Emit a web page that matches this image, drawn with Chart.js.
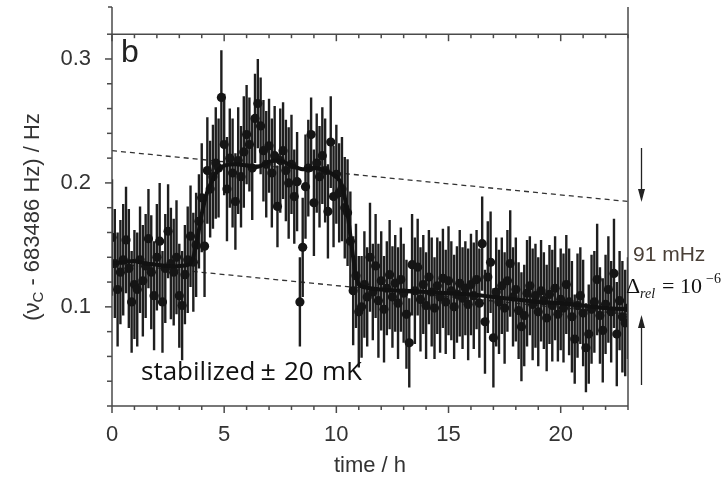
<!DOCTYPE html>
<html>
<head>
<meta charset="utf-8">
<script src="https://cdn.jsdelivr.net/npm/chart.js@4.4.1/dist/chart.umd.min.js"></script>
<style>
  body { margin: 0; background: #fff; }
  canvas { display: block; }
</style>
</head>
<body>
<canvas id="chart" width="725" height="479"></canvas>
<script>
// measurement times (h), one row per hour
const times = [
  0, 0.125, 0.25, 0.375, 0.5, 0.625, 0.75, 0.875,
  1, 1.125, 1.25, 1.375, 1.5, 1.625, 1.75, 1.875,
  2, 2.125, 2.25, 2.375, 2.5, 2.625, 2.75, 2.875,
  3, 3.125, 3.25, 3.375, 3.5, 3.625, 3.75, 3.875,
  4, 4.125, 4.25, 4.375, 4.5, 4.625, 4.75, 4.875,
  5, 5.125, 5.25, 5.375, 5.5, 5.625, 5.75, 5.875,
  6, 6.125, 6.25, 6.375, 6.5, 6.625, 6.75, 6.875,
  7, 7.125, 7.25, 7.375, 7.5, 7.625, 7.75, 7.875,
  8, 8.125, 8.25, 8.375, 8.5, 8.625, 8.75, 8.875,
  9, 9.125, 9.25, 9.375, 9.5, 9.625, 9.75, 9.875,
  10, 10.125, 10.25, 10.375, 10.5, 10.625, 10.75, 10.875,
  11, 11.125, 11.25, 11.375, 11.5, 11.625, 11.75, 11.875,
  12, 12.125, 12.25, 12.375, 12.5, 12.625, 12.75, 12.875,
  13, 13.125, 13.25, 13.375, 13.5, 13.625, 13.75, 13.875,
  14, 14.125, 14.25, 14.375, 14.5, 14.625, 14.75, 14.875,
  15, 15.125, 15.25, 15.375, 15.5, 15.625, 15.75, 15.875,
  16, 16.125, 16.25, 16.375, 16.5, 16.625, 16.75, 16.875,
  17, 17.125, 17.25, 17.375, 17.5, 17.625, 17.75, 17.875,
  18, 18.125, 18.25, 18.375, 18.5, 18.625, 18.75, 18.875,
  19, 19.125, 19.25, 19.375, 19.5, 19.625, 19.75, 19.875,
  20, 20.125, 20.25, 20.375, 20.5, 20.625, 20.75, 20.875,
  21, 21.125, 21.25, 21.375, 21.5, 21.625, 21.75, 21.875,
  22, 22.125, 22.25, 22.375, 22.5, 22.625, 22.75, 22.875,
  23
];

// nu_c - 683486 Hz, in Hz
const values = [
  0.156, 0.135, 0.114, 0.128, 0.138, 0.154, 0.131, 0.104,
  0.118, 0.114, 0.138, 0.121, 0.133, 0.155, 0.128, 0.109,
  0.140, 0.153, 0.104, 0.131, 0.161, 0.135, 0.128, 0.140,
  0.109, 0.101, 0.126, 0.138, 0.157, 0.136, 0.150, 0.169,
  0.188, 0.149, 0.210, 0.195, 0.205, 0.216, 0.212, 0.269,
  0.231, 0.195, 0.220, 0.208, 0.185, 0.218, 0.205, 0.225,
  0.239, 0.231, 0.212, 0.252, 0.264, 0.246, 0.226, 0.215,
  0.230, 0.208, 0.222, 0.181, 0.218, 0.226, 0.210, 0.200,
  0.215, 0.189, 0.201, 0.104, 0.148, 0.197, 0.212, 0.239,
  0.184, 0.216, 0.205, 0.222, 0.210, 0.177, 0.233, 0.189,
  0.207, 0.192, 0.195, 0.180, 0.176, 0.153, 0.113, 0.125,
  0.096, 0.100, 0.118, 0.108, 0.140, 0.112, 0.133, 0.105,
  0.121, 0.098, 0.115, 0.126, 0.108, 0.119, 0.103, 0.122,
  0.111, 0.094, 0.071, 0.134, 0.113, 0.132, 0.106, 0.118,
  0.101, 0.124, 0.112, 0.099, 0.117, 0.108, 0.123, 0.104,
  0.121, 0.113, 0.100, 0.110, 0.119, 0.107, 0.115, 0.102,
  0.118, 0.109, 0.122, 0.103, 0.151, 0.088, 0.124, 0.136,
  0.075, 0.112, 0.104, 0.117, 0.099, 0.121, 0.135, 0.108,
  0.114, 0.097, 0.084, 0.093, 0.111, 0.117, 0.102, 0.109,
  0.096, 0.113, 0.105, 0.091, 0.110, 0.101, 0.115, 0.094,
  0.106, 0.099, 0.118, 0.104, 0.092, 0.074, 0.101, 0.109,
  0.095, 0.067, 0.078, 0.098, 0.104, 0.122, 0.093, 0.081,
  0.102, 0.114, 0.096, 0.127, 0.078, 0.105, 0.092, 0.087,
  0.099
];

// one-sigma uncertainty, in Hz
const errors = [
  0.047, 0.044, 0.046, 0.042, 0.045, 0.043, 0.048, 0.041,
  0.044, 0.046, 0.043, 0.045, 0.042, 0.040, 0.046, 0.044,
  0.043, 0.047, 0.041, 0.044, 0.038, 0.045, 0.043, 0.046,
  0.042, 0.044, 0.040, 0.043, 0.041, 0.040, 0.042, 0.038,
  0.044, 0.041, 0.043, 0.039, 0.042, 0.045, 0.040, 0.038,
  0.041, 0.042, 0.040, 0.044, 0.039, 0.043, 0.041, 0.045,
  0.040, 0.038, 0.042, 0.036, 0.036, 0.039, 0.041, 0.043,
  0.038, 0.044, 0.040, 0.033, 0.042, 0.039, 0.041, 0.045,
  0.040, 0.038, 0.040, 0.036, 0.040, 0.042, 0.039, 0.030,
  0.043, 0.040, 0.041, 0.039, 0.042, 0.038, 0.037, 0.041,
  0.040, 0.040, 0.042, 0.041, 0.043, 0.040, 0.044, 0.042,
  0.045, 0.041, 0.043, 0.040, 0.044, 0.039, 0.042, 0.046,
  0.040, 0.043, 0.038, 0.044, 0.041, 0.039, 0.045, 0.042,
  0.040, 0.044, 0.036, 0.041, 0.043, 0.039, 0.042, 0.040,
  0.043, 0.038, 0.044, 0.041, 0.039, 0.045, 0.040, 0.042,
  0.044, 0.040, 0.042, 0.039, 0.043, 0.041, 0.038, 0.045,
  0.041, 0.043, 0.040, 0.044, 0.038, 0.042, 0.045, 0.041,
  0.040, 0.044, 0.042, 0.039, 0.045, 0.041, 0.043, 0.040,
  0.042, 0.039, 0.044, 0.041, 0.043, 0.040, 0.045, 0.042,
  0.044, 0.041, 0.039, 0.043, 0.040, 0.045, 0.042, 0.038,
  0.041, 0.044, 0.040, 0.043, 0.045, 0.036, 0.042, 0.039,
  0.043, 0.036, 0.040, 0.044, 0.041, 0.045, 0.039, 0.042,
  0.040, 0.043, 0.041, 0.044, 0.042, 0.040, 0.045, 0.043,
  0.041
];

// smoothed curve through the data
const trendTimes = [0, 0.5, 1, 1.5, 2, 2.5, 3, 3.5, 3.75, 4, 4.25, 4.5, 4.75, 5, 5.5, 6, 6.5, 7, 7.5, 8, 8.5, 9, 9.5, 10, 10.25, 10.5, 10.75, 11, 11.5, 12, 13, 14, 15, 16, 17, 18, 19, 20, 21, 22, 23];
const trendValues = [0.135, 0.136, 0.137, 0.135, 0.134, 0.133, 0.133, 0.135, 0.150, 0.175, 0.193, 0.203, 0.211, 0.214, 0.215, 0.214, 0.213, 0.217, 0.218, 0.214, 0.211, 0.212, 0.210, 0.205, 0.198, 0.175, 0.140, 0.118, 0.115, 0.114, 0.113, 0.112, 0.111, 0.110, 0.108, 0.106, 0.104, 0.103, 0.101, 0.099, 0.098];

// dashed reference lines, 91 mHz apart
const refTimes = [0, 23];
const upperRef = [0.226, 0.185];
const lowerRef = [0.135, 0.094];

const xTicks = [0, 5, 10, 15, 20];
const xTickLabels = ['0', '5', '10', '15', '20'];
const yTicks = [0.1, 0.2, 0.3];
const yTickLabels = ['0.1', '0.2', '0.3'];

const ink = '#333';
const axisInk = '#4a4a4a';
const sans = "'Liberation Sans', Arial, sans-serif";
const serif = "'Liberation Serif', 'Times New Roman', serif";
const noteFont = "'Open Sans', sans-serif";

Chart.defaults.font.family = sans;

function toPoints(xs, ys) {
    return xs.map((x, i) => ({ x: x, y: ys[i] }));
}

const errorBars = {
    id: 'errorBars',
    beforeDatasetDraw(chart, args) {
        if (args.index !== 1) return;
        const { ctx, chartArea, scales: { x, y } } = chart;
        ctx.save();
        ctx.beginPath();
        ctx.rect(chartArea.left, chartArea.top, chartArea.right - chartArea.left, chartArea.bottom - chartArea.top);
        ctx.clip();
        ctx.strokeStyle = '#1e1e1e';
        ctx.lineWidth = 2.4;
        times.forEach((t, i) => {
            const px = x.getPixelForValue(t);
            ctx.beginPath();
            ctx.moveTo(px, y.getPixelForValue(values[i] - errors[i]));
            ctx.lineTo(px, y.getPixelForValue(values[i] + errors[i]));
            ctx.stroke();
        });
        ctx.restore();
    }
};

function line(ctx, x1, y1, x2, y2) {
    ctx.beginPath();
    ctx.moveTo(x1, y1);
    ctx.lineTo(x2, y2);
    ctx.stroke();
}

function arrow(ctx, x, yFrom, yTip) {
    const dir = yTip > yFrom ? 1 : -1;
    line(ctx, x, yFrom, x, yTip - dir * 10);
    ctx.beginPath();
    ctx.moveTo(x, yTip);
    ctx.lineTo(x - 3.5, yTip - dir * 13);
    ctx.lineTo(x + 3.5, yTip - dir * 13);
    ctx.closePath();
    ctx.fill();
}

const frame = {
    id: 'frame',
    afterDraw(chart) {
        const { ctx, chartArea: { left, right, top, bottom }, scales: { x, y } } = chart;
        ctx.save();
        ctx.strokeStyle = axisInk;
        ctx.fillStyle = axisInk;
        ctx.lineWidth = 1.5;

        // axes and frame
        line(ctx, left, 7, left, bottom);
        line(ctx, left, 7, left - 4, 7);
        line(ctx, left, bottom, right, bottom);
        line(ctx, left, top, right, top);
        line(ctx, right, 7, right, bottom);

        // x ticks: outward at the bottom, inward at the top
        for (let v = 0; v <= 23; v++) {
            const px = x.getPixelForValue(v);
            const len = v % 5 === 0 ? 7 : 4;
            line(ctx, px, bottom, px, bottom + len);
            line(ctx, px, top, px, top + len);
        }
        // y ticks every 0.02
        for (let k = 1; k <= 16; k++) {
            const py = y.getPixelForValue(k * 0.02);
            const len = k % 5 === 0 ? 7 : 5;
            line(ctx, left, py, left - len, py);
        }

        // arrows marking the 91 mHz step
        ctx.lineWidth = 1.3;
        ctx.strokeStyle = '#222';
        ctx.fillStyle = '#222';
        arrow(ctx, right + 13.5, 148, 202);
        arrow(ctx, right + 13.5, 385, 315);

        // y axis title with subscript
        ctx.fillStyle = ink;
        ctx.save();
        ctx.translate(33, 217);
        ctx.rotate(-Math.PI / 2);
        ctx.textBaseline = 'middle';
        const main = '22px ' + sans;
        const sub = '15px ' + sans;
        const p1 = '(\u03bd', p2 = 'C', p3 = ' - 683486 Hz) / Hz';
        ctx.font = main;
        const w1 = ctx.measureText(p1).width, w3 = ctx.measureText(p3).width;
        ctx.font = sub;
        const w2 = ctx.measureText(p2).width;
        let tx = -(w1 + w2 + w3) / 2;
        ctx.font = main;
        ctx.fillText(p1, tx, 0);
        tx += w1;
        ctx.font = sub;
        ctx.fillText(p2, tx, 6);
        tx += w2;
        ctx.font = main;
        ctx.fillText(p3, tx, 0);
        ctx.restore();

        ctx.textBaseline = 'alphabetic';
        ctx.textAlign = 'left';

        // panel letter
        ctx.fillStyle = '#222';
        ctx.font = '32px ' + sans;
        ctx.fillText('b', 121, 62);

        // temperature note
        ctx.fillStyle = '#111';
        ctx.font = '26px ' + noteFont;
        ctx.fillText('stabilized', 141, 380);
        ctx.font = '26px ' + sans;
        ctx.fillText('\u00b1', 261, 380);
        ctx.font = '26px ' + noteFont;
        ctx.fillText('20', 284, 380);
        ctx.fillText('mK', 322, 380);

        // step size
        ctx.fillStyle = '#4a4038';
        ctx.font = '21px ' + sans;
        ctx.fillText('91 mHz', 633, 261);

        ctx.fillStyle = '#111';
        ctx.font = '22px ' + serif;
        ctx.fillText('\u0394', 626, 293);
        ctx.font = 'italic 14px ' + serif;
        ctx.fillText('rel', 640, 298);
        ctx.font = '22px ' + serif;
        ctx.fillText('=', 662, 293);
        ctx.fillText('10', 680, 293);
        ctx.font = '14px ' + serif;
        ctx.fillText('\u22126', 706, 283);

        ctx.restore();
    }
};

new Chart(document.getElementById('chart'), {
    type: 'scatter',
    data: {
        datasets: [
            {
                label: 'smoothed',
                data: toPoints(trendTimes, trendValues),
                showLine: true,
                borderColor: '#111',
                borderWidth: 4,
                tension: 0.3,
                pointRadius: 0
            },
            {
                label: 'measured',
                data: toPoints(times, values),
                backgroundColor: '#151515',
                borderWidth: 0,
                pointRadius: 4.6
            },
            {
                label: 'upper',
                data: toPoints(refTimes, upperRef),
                showLine: true,
                borderColor: '#333',
                borderWidth: 1.3,
                borderDash: [5, 4],
                pointRadius: 0
            },
            {
                label: 'lower',
                data: toPoints(refTimes, lowerRef),
                showLine: true,
                borderColor: '#333',
                borderWidth: 1.3,
                borderDash: [5, 4],
                pointRadius: 0
            }
        ]
    },
    options: {
        responsive: false,
        animation: false,
        devicePixelRatio: 1,
        layout: { padding: { top: 25, right: 97, left: 0, bottom: 0 } },
        plugins: {
            legend: { display: false },
            tooltip: { enabled: false }
        },
        scales: {
            x: {
                type: 'linear',
                min: 0,
                max: 23,
                grid: { display: false, drawTicks: false },
                border: { display: false },
                afterBuildTicks: (scale) => { scale.ticks = xTicks.map(v => ({ value: v })); },
                afterFit: (scale) => { scale.height = 73; },
                ticks: {
                    padding: 16,
                    color: ink,
                    font: { size: 22 },
                    callback: (v, i) => xTickLabels[i]
                },
                title: {
                    display: true,
                    text: 'time / h',
                    color: ink,
                    font: { size: 22 },
                    padding: 0
                }
            },
            y: {
                type: 'linear',
                min: 0.02,
                max: 0.32,
                grid: { display: false, drawTicks: false },
                border: { display: false },
                afterBuildTicks: (scale) => { scale.ticks = yTicks.map(v => ({ value: v })); },
                afterFit: (scale) => { scale.width = 112; },
                ticks: {
                    padding: 21,
                    color: ink,
                    font: { size: 22 },
                    callback: (v, i) => yTickLabels[i]
                }
            }
        }
    },
    plugins: [errorBars, frame]
});
</script>
</body>
</html>
